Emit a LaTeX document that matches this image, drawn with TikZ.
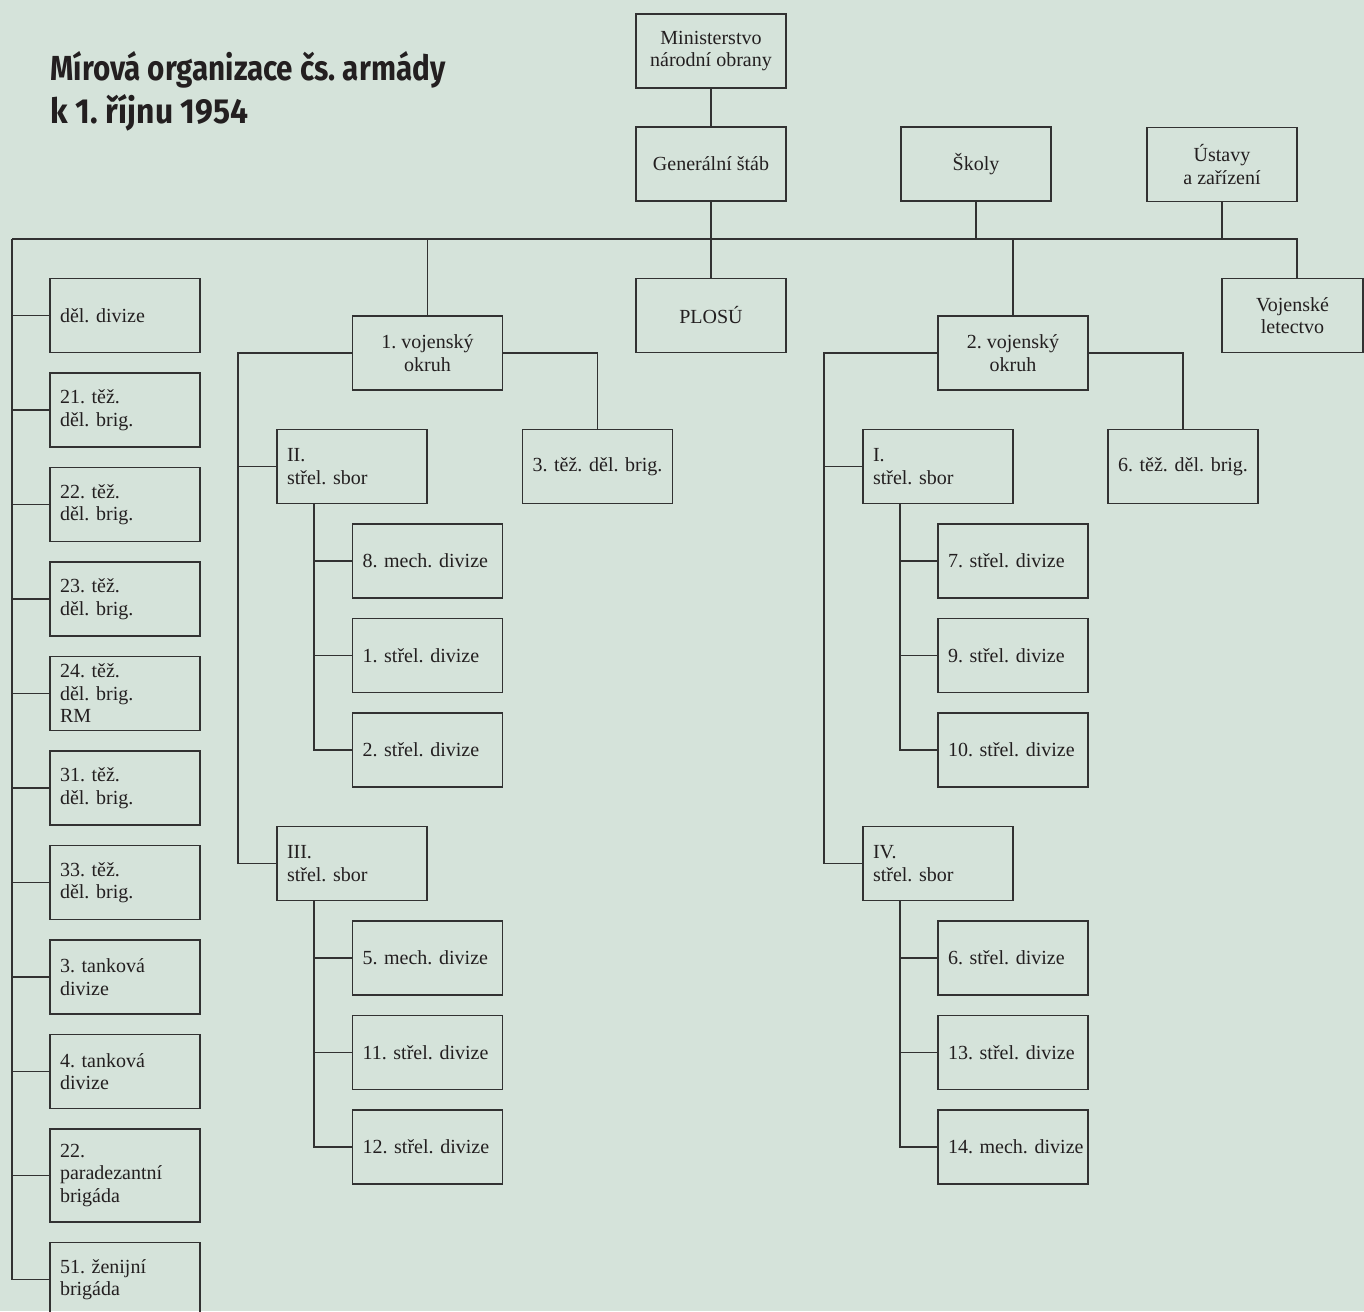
\documentclass[tikz,border=0pt]{standalone}
\usepackage{fontspec}
\setmainfont{Liberation Serif}
\newfontfamily\titlefont{Fira Sans}
\usepackage{graphicx}
\usetikzlibrary{positioning}
\definecolor{bgcol}{RGB}{213,227,218}
\definecolor{linecol}{RGB}{50,50,50}
\definecolor{textcol}{RGB}{35,31,32}
\frenchspacing
\hyphenpenalty=10000

\begin{document}
\begin{tikzpicture}[x=0.5pt,y=-0.5pt,node distance=9.4pt,
 font=\fontsize{10}{11.25}\selectfont,
 conn/.style={draw=linecol,line width=0.85pt},
 box/.style={conn,minimum width=75pt,minimum height=37pt,inner ysep=1pt,text=textcol},
 cbox/.style={box,align=center},
 lbox/.style={box,text width=65pt,inner xsep=5pt,align=left},
 ttl/.style={anchor=base west,inner sep=0pt,text=textcol,font=\titlefont\bfseries\fontsize{17.4}{21}\selectfont}]
\clip (0,0) rectangle (1364,1311);
\fill[bgcol] (0,0) rectangle (1364,1311);
% title
\node[ttl] (title1) at (50,81) {\resizebox{197.5pt}{\height}{Mírová organizace čs. armády}};
\node[ttl] (title2) at (50,123) {\resizebox{99pt}{\height}{k 1. říjnu 1954}};
% top of the tree
\node[cbox] (mno) at (711,51) {Ministerstvo\\národní obrany};
\node[cbox] (gs) at (711,164) {Generální štáb};
\node[cbox] (skoly) at (976,164) {Školy};
\node[cbox] (ustavy) at (1222,164.5) {Ústavy\\a zařízení};
\node[cbox] (plosu) at (711,315.5) {PLOSÚ};
\node[cbox,minimum width=70.5pt] (vl) at (1292.5,315.5) {Vojenské\\letectvo};
\node[cbox] (vo1) at (427.5,353) {1. vojenský\\okruh};
\node[cbox] (vo2) at (1013,353) {2. vojenský\\okruh};
\node[lbox] (tdb3) at (597.5,466.5) {3.~těž.~děl.~brig.};
\node[lbox] (tdb6) at (1183,466.5) {6.~těž.~děl.~brig.};
% corps
\node[lbox] (sb2) at (352,466.5) {II.\\střel. sbor};
\node[lbox] (sb3) at (352,863.5) {III.\\střel. sbor};
\node[lbox] (sb1) at (938,466.5) {I.\\střel. sbor};
\node[lbox] (sb4) at (938,863.5) {IV.\\střel. sbor};
% divisions
\node[lbox] (d8m) at (427.5,561) {8. mech. divize};
\node[lbox,below=of d8m] (d1) {1. střel. divize};
\node[lbox,below=of d1] (d2) {2. střel. divize};
\node[lbox] (d5m) at (427.5,958) {5. mech. divize};
\node[lbox,below=of d5m] (d11) {11. střel. divize};
\node[lbox,below=of d11] (d12) {12. střel. divize};
\node[lbox] (d7) at (1013,561) {7. střel. divize};
\node[lbox,below=of d7] (d9) {9. střel. divize};
\node[lbox,below=of d9] (d10) {10. střel. divize};
\node[lbox] (d6) at (1013,958) {6. střel. divize};
\node[lbox,below=of d6] (d13) {13. střel. divize};
\node[lbox,below=of d13] (d14m) {14.~mech.~divize};
% left column
\node[lbox] (l1) at (125,315.5) {děl. divize};
\node[lbox,below=of l1] (l2) {21. těž.\\děl. brig.};
\node[lbox,below=of l2] (l3) {22. těž.\\děl. brig.};
\node[lbox,below=of l3] (l4) {23. těž.\\děl. brig.};
\node[lbox,below=of l4] (l5) {24. těž.\\děl. brig.\\RM};
\node[lbox,below=of l5] (l6) {31. těž.\\děl. brig.};
\node[lbox,below=of l6] (l7) {33. těž.\\děl. brig.};
\node[lbox,below=of l7] (l8) {3. tanková\\divize};
\node[lbox,below=of l8] (l9) {4. tanková\\divize};
\node[lbox,below=of l9,minimum height=46.5pt] (l10) {22.\\paradezantní\\brigáda};
\node[lbox,below=of l10] (l11) {51. ženijní\\brigáda};
% connectors
\coordinate (lt) at (12,239);
\coordinate (vlj) at (1297,239);
\draw[conn] (mno) -- (gs);
\draw[conn] (gs) -- (plosu);
\draw[conn] (skoly) -- (skoly |- lt);
\draw[conn] (ustavy) -- (ustavy |- lt);
\draw[conn] (vo1) -- (vo1 |- lt);
\draw[conn] (vo2) -- (vo2 |- lt);
\draw[conn] (lt) -- (vlj) -- (vlj |- vl.north);
\draw[conn] (lt) |- (l11);
\draw[conn] (lt |- l1) -- (l1);
\draw[conn] (lt |- l2) -- (l2);
\draw[conn] (lt |- l3) -- (l3);
\draw[conn] (lt |- l4) -- (l4);
\draw[conn] (lt |- l5) -- (l5);
\draw[conn] (lt |- l6) -- (l6);
\draw[conn] (lt |- l7) -- (l7);
\draw[conn] (lt |- l8) -- (l8);
\draw[conn] (lt |- l9) -- (l9);
\draw[conn] (lt |- l10) -- (l10);
% 1st district
\coordinate (s1) at (238,353);
\draw[conn] (vo1) -- (s1) |- (sb3);
\draw[conn] (s1 |- sb2) -- (sb2);
\draw[conn] (vo1) -| (tdb3);
\coordinate (s2) at (314,503);
\draw[conn] (s2) |- (d2);
\draw[conn] (s2 |- d8m) -- (d8m);
\draw[conn] (s2 |- d1) -- (d1);
\coordinate (s3) at (314,900);
\draw[conn] (s3) |- (d12);
\draw[conn] (s3 |- d5m) -- (d5m);
\draw[conn] (s3 |- d11) -- (d11);
% 2nd district
\coordinate (s4) at (824,353);
\draw[conn] (vo2) -- (s4) |- (sb4);
\draw[conn] (s4 |- sb1) -- (sb1);
\draw[conn] (vo2) -| (tdb6);
\coordinate (s5) at (900,503);
\draw[conn] (s5) |- (d10);
\draw[conn] (s5 |- d7) -- (d7);
\draw[conn] (s5 |- d9) -- (d9);
\coordinate (s6) at (900,900);
\draw[conn] (s6) |- (d14m);
\draw[conn] (s6 |- d6) -- (d6);
\draw[conn] (s6 |- d13) -- (d13);
\end{tikzpicture}
\end{document}
